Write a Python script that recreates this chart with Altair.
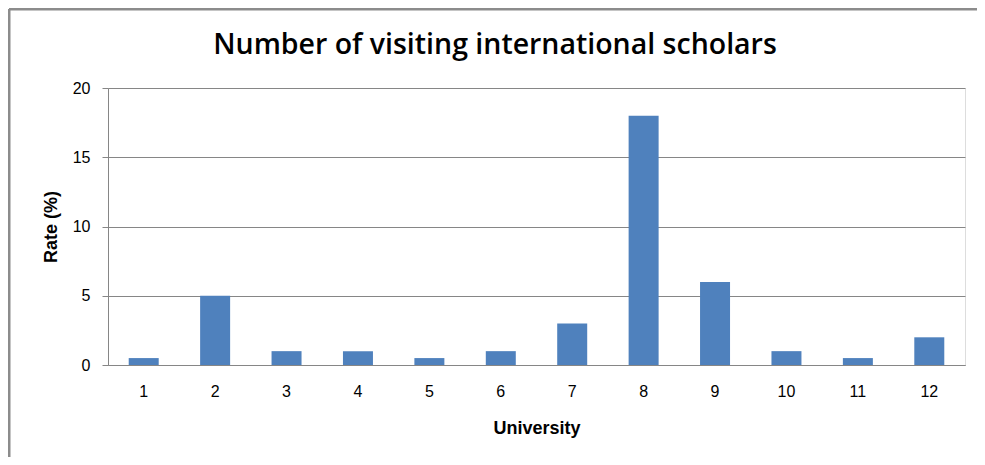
import altair as alt
import pandas as pd

universities = [str(i) for i in range(1, 13)]
rates = [0.5, 5, 1, 1, 0.5, 1, 3, 18, 6, 1, 0.5, 2]
title_text = ["Number of visiting international scholars"]

df = pd.DataFrame({"University": universities, "Rate": rates})

FONT = "Open Sans"

bars = alt.Chart(df).mark_bar(color="#4F81BD").encode(
    x=alt.X("University:N", sort=universities,
            scale=alt.Scale(paddingInner=0.58, paddingOuter=0.29),
            axis=alt.Axis(title="University", labelAngle=0, ticks=False,
                          labelPadding=18, titlePadding=20,
                          domainColor="#868686", labelFontSize=16,
                          titleFontSize=18)),
    y=alt.Y("Rate:Q", scale=alt.Scale(domain=[0, 20]),
            axis=alt.Axis(title="Rate (%)", values=[0, 5, 10, 15, 20],
                          tickSize=6, tickColor="#868686", labelPadding=12,
                          titlePadding=12, grid=True, gridColor="#868686",
                          domainColor="#868686", labelFontSize=16,
                          titleFontSize=18)),
)

frame_top = alt.Chart(pd.DataFrame({"k": [0]})).mark_rule(
    stroke="#8c8c8c", strokeWidth=3).encode(
    x=alt.value(-99), x2=alt.value(869),
    y=alt.value(-79),
)

frame_left = alt.Chart(pd.DataFrame({"k": [0]})).mark_rule(
    stroke="#8c8c8c", strokeWidth=3).encode(
    x=alt.value(-99),
    y=alt.value(-79), y2=alt.value(369),
)

title = alt.Chart(pd.DataFrame({"t": title_text})).mark_text(
    font=FONT, fontSize=28.5, fontWeight=600, color="#000000",
    align="center", baseline="middle").encode(
    text="t:N", x=alt.value(387), y=alt.value(-43),
)

chart = alt.layer(bars, frame_top, frame_left, title).properties(
    width=857, height=277,
    padding={"left": 100, "top": 80, "right": 12, "bottom": 92},
    autosize=alt.AutoSizeParams(type="none"),
).configure_axis(
    labelFont=FONT, titleFont=FONT, labelColor="#404040", titleColor="#262626",
    titleFontWeight="bold",
).configure_view(stroke=None).configure(background="white")

chart.save("out.html", embed_options={"renderer": "svg", "actions": False})
